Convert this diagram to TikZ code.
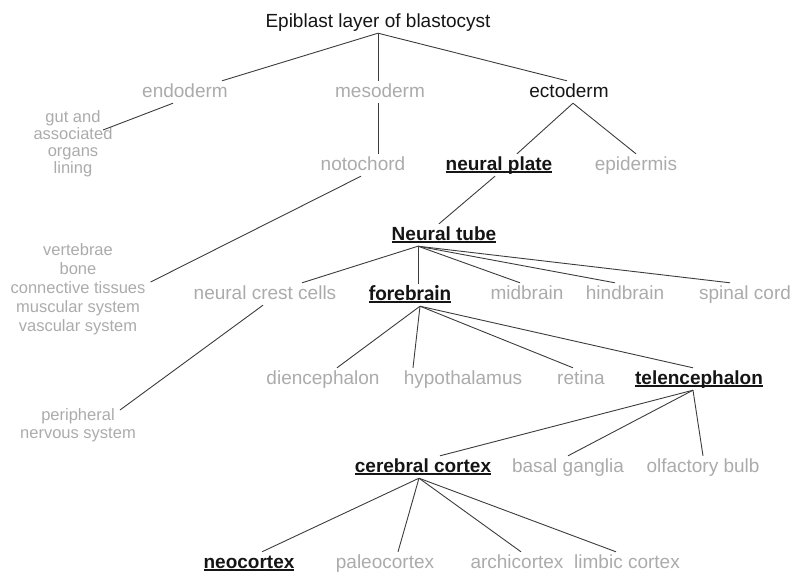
\documentclass[tikz,border=0pt]{standalone}
\usepackage{fontspec}
\setmainfont{Liberation Sans}
\newfontfamily\calfont{Carlito}
\usetikzlibrary{calc}
\definecolor{inkblack}{HTML}{151515}
\definecolor{palegray}{HTML}{ABABAB}
\definecolor{linkgray}{HTML}{3C3C3C}
% bold terms carry a rule just under the baseline
\newcommand\undertext[1]{\setbox0=\hbox{#1}\rlap{\rule[-2.8pt]{\wd0}{1.4pt}}\box0}

\begin{document}
\begin{tikzpicture}[x=1pt,y=-1pt,
  term/.style={inner sep=2pt, text height=14pt, text depth=4pt, anchor=base,
               font=\fontsize{19}{22}\selectfont},
  faint/.style={term, text=palegray},
  dark/.style={term, text=inkblack},
  key/.style={term, text=inkblack, font=\fontsize{19}{22}\selectfont\bfseries},
  listing/.style={align=center, inner sep=2pt, text=palegray},
  link/.style={draw=linkgray, line width=0.9pt}]
\useasboundingbox (0,0) rectangle (793,573);

% germ layers
\node[dark]  (epi)  at (378,27)  {Epiblast layer of blastocyst};
\node[faint] (endo) at (185,97)  {endoderm};
\node[faint] (meso) at (380,97)  {mesoderm};
\node[dark]  (ecto) at (569,97)  {ectoderm};
\node[listing, font=\fontsize{16.5}{17}\selectfont] (gut) at (73,144)
  {gut and\\associated\\organs\\lining};

% second tier
\node[faint] (noto)   at (363,170) {notochord};
\node[key]   (nplate) at (499,170) {\undertext{neural plate}};
\node[faint] (epid)   at (636,170) {epidermis};
\node[listing, font=\fontsize{16.5}{19}\selectfont] (vert) at (78,289)
  {vertebrae\\bone\\connective tissues\\muscular system\\vascular system};

% neural tube and its parts
\node[key]   (ntube)  at (444,240) {\undertext{Neural tube}};
\node[faint] (crest)  at (265,299) {neural crest cells};
\node[key, font=\fontsize{21.5}{24}\calfont\bfseries] (fore) at (410,300) {\undertext{forebrain}};
\node[faint] (mid)    at (527,299) {midbrain};
\node[faint] (hind)   at (625,299) {hindbrain};
\node[faint] (spinal) at (745,299) {spinal cord};
\node[listing, font=\fontsize{16.5}{18}\selectfont] (periph) at (78,425)
  {peripheral\\nervous system};

% forebrain derivatives
\node[faint] (dien)   at (323,384) {diencephalon};
\node[faint] (hypo)   at (463,384) {hypothalamus};
\node[faint] (retina) at (581,384) {retina};
\node[key]   (telen)  at (699,384) {\undertext{telencephalon}};

% telencephalon derivatives
\node[key]   (cortex) at (423,472) {\undertext{cerebral cortex}};
\node[faint] (basal)  at (568,472) {basal ganglia};
\node[faint] (olf)    at (703,472) {olfactory bulb};

% cortical types
\node[key]   (neo)    at (249,568) {\undertext{neocortex}};
\node[faint] (paleo)  at (385,568) {paleocortex};
\node[faint] (archi)  at (517,568) {archicortex};
\node[faint] (limbic) at (627,568) {limbic cortex};

% connectors
\draw[link] (epi.south) -- ($(endo.north)+(37,0)$);
\draw[link] (epi.south) -- ($(meso.north)+(-2,0)$);
\draw[link] (epi.south) -- ($(ecto.north)+(-2,0)$);
\draw[link] ($(endo.south)+(-12,0)$) -- ($(gut.center)+(30,-14)$);
\draw[link] ($(meso.south)+(-2,0)$) -- ($(noto.north)+(15,0)$);
\draw[link] ($(ecto.south)+(4,0)$) -- ($(nplate.north)+(18,0)$);
\draw[link] ($(ecto.south)+(4,0)$) -- (epid.north);
\draw[link] ($(noto.south)+(-2,0)$) -- ($(vert.east)+(3,-7)$);
\draw[link] ($(nplate.south)+(-4,0)$) -- ($(ntube.north)+(-5,0)$);

\coordinate (tubefan) at ($(ntube.south)+(-26,0)$);
\draw[link] (tubefan) -- ($(crest.north)+(37,0)$);
\draw[link] (tubefan) -- ($(fore.north)+(8,0)$);
\draw[link] (tubefan) -- ($(mid.north)+(-7,0)$);
\draw[link] (tubefan) -- ($(hind.north)+(-10,0)$);
\draw[link] (tubefan) -- ($(spinal.north)+(-15,0)$);
\draw[link] ($(crest.south)+(-2,0)$) -- ($(periph.center)+(42,-15)$);

\coordinate (forefan) at ($(fore.south)+(10,0)$);
\draw[link] (forefan) -- ($(dien.north)+(14,0)$);
\draw[link] (forefan) -- ($(hypo.north)+(-50,0)$);
\draw[link] (forefan) -- ($(retina.north)+(-8,0)$);
\draw[link] (forefan) -- ($(telen.north)+(-6,0)$);

\coordinate (telenfan) at ($(telen.south)+(-6,0)$);
\draw[link] (telenfan) -- ($(cortex.north)+(17,0)$);
\draw[link] (telenfan) -- (basal.north);
\draw[link] (telenfan) -- (olf.north);

\coordinate (cortexfan) at ($(cortex.south)+(-4,0)$);
\draw[link] (cortexfan) -- ($(neo.north)+(13,0)$);
\draw[link] (cortexfan) -- ($(paleo.north)+(13,0)$);
\draw[link] (cortexfan) -- ($(archi.north)+(4,0)$);
\draw[link] (cortexfan) -- ($(limbic.north)+(-11,0)$);
\end{tikzpicture}
\end{document}
